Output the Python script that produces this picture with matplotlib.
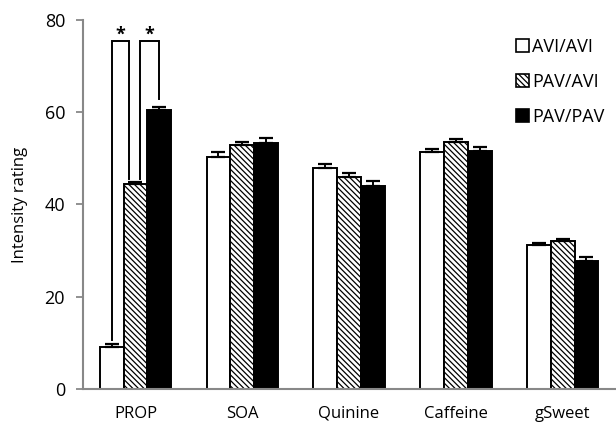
import numpy as np
import matplotlib
matplotlib.use("Agg")
import matplotlib.pyplot as plt
from matplotlib.patches import Patch

# values
categories = ["PROP", "SOA", "Quinine", "Caffeine", "gSweet"]
groups = ["AVI/AVI", "PAV/AVI", "PAV/PAV"]
avi_avi = [9.1, 50.3, 48.0, 51.4, 31.1]
pav_avi = [44.5, 52.9, 46.0, 53.5, 32.1]
pav_pav = [60.4, 53.3, 44.0, 51.6, 27.7]
avi_avi_err = [0.6, 1.0, 0.7, 0.6, 0.6]
pav_avi_err = [0.4, 0.6, 0.8, 0.6, 0.3]
pav_pav_err = [0.8, 1.2, 1.0, 0.9, 0.8]

plt.rcParams["font.family"] = ["Open Sans", "DejaVu Sans"]
plt.rcParams["hatch.linewidth"] = 0.9
plt.rcParams["hatch.color"] = "#333333"

fig = plt.figure(figsize=(6.16, 4.25), dpi=100)
ax = fig.add_axes([0.135, 0.085, 0.865, 0.868])

x = np.arange(len(categories))
w = 0.223
styles = [dict(color="white", hatch=None),
          dict(color="white", hatch="\\" * 6),
          dict(color="black", hatch=None)]
series = [avi_avi, pav_avi, pav_pav]
errs = [avi_avi_err, pav_avi_err, pav_pav_err]
for i, (vals, err, st) in enumerate(zip(series, errs, styles)):
    xs = x + (i - 1) * w
    ax.bar(xs, vals, w, color=st["color"], edgecolor="black", linewidth=1.4,
           hatch=st["hatch"], zorder=2)
    ax.errorbar(xs, vals, yerr=[np.zeros(len(vals)), err], fmt="none",
                ecolor="black", elinewidth=1.4, capsize=5, capthick=1.6, zorder=3)

# significance brackets on PROP
top = 75.5
b1 = [(-w, avi_avi[0] + avi_avi_err[0] + 0.8), (-0.06, pav_avi[0] + 1.0)]
b2 = [(0.045, pav_avi[0] + 1.0), (w, pav_pav[0] + pav_pav_err[0] + 1.6)]
for (xa, ya), (xb, yb) in (b1, b2):
    ax.plot([xa, xa, xb, xb], [ya, top, top, yb], color="black", lw=1.4,
            solid_joinstyle="miter", zorder=4)
    ax.text((xa + xb) / 2, top - 0.6, "*", ha="center", va="bottom",
            fontsize=13, fontweight="bold")

ax.set_xlim(-0.49, 4.5)
ax.set_ylim(0, 80)
ax.set_yticks([0, 20, 40, 60, 80])
ax.set_xticks(x)
ax.set_xticklabels(categories)
ax.tick_params(axis="x", length=0, pad=12, labelsize=12)
ax.tick_params(axis="y", length=5, width=1.3, color="#888888", labelsize=13, pad=8)
for s in ("top", "right"):
    ax.spines[s].set_visible(False)
for s in ("left", "bottom"):
    ax.spines[s].set_color("#888888")
    ax.spines[s].set_linewidth(1.5)
ax.set_ylabel("Intensity rating", fontsize=12, labelpad=12)

handles = [Patch(facecolor=st["color"], edgecolor="black", hatch=st["hatch"], linewidth=1.2)
           for st in styles]
ax.legend(handles, groups, loc="upper left", bbox_to_anchor=(0.812, 0.95),
          bbox_transform=fig.transFigure, frameon=False, fontsize=13,
          handlelength=0.7, handleheight=0.7, handletextpad=0.15, labelspacing=0.95)

fig.savefig("out.png", dpi=100)
